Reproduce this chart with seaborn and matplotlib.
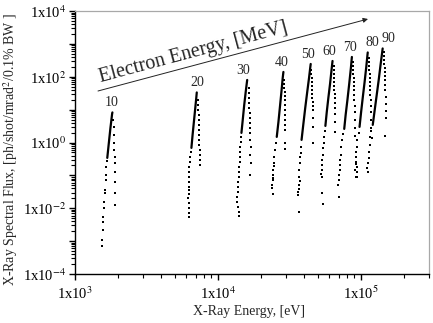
import numpy as np
import pandas as pd
import matplotlib
matplotlib.use("Agg")
import matplotlib.pyplot as plt
import seaborn as sns
from matplotlib.ticker import LogLocator, FuncFormatter, NullFormatter

# ---------------- data ----------------
peaks = ["10", "20", "30", "40", "50", "60", "70", "80", "90"]

# dense rising branch of each spectrum (X-ray energy [eV], flux)
dense_ev = {
    "10": [1682, 1728, 1770, 1801, 1818, 1827],
    "20": [6525, 6650, 6812, 6956, 7057, 7114],
    "30": [14610, 14920, 15280, 15650, 15900, 16030],
    "40": [25810, 26520, 27250, 27910, 28410, 28730],
    "50": [38490, 39560, 40840, 42170, 43410, 44240, 44600],
    "60": [56500, 57780, 59270, 60910, 62390, 63400],
    "70": [76550, 78310, 80590, 82940, 85220, 86600],
    "80": [97950, 100500, 103300, 106300, 109200, 111300, 111800],
    "90": [121200, 125100, 129200, 133400, 137700, 140600, 142200],
}
dense_flux = {
    "10": [0.340, 1.04, 2.78, 5.22, 7.40, 8.22],
    "20": [0.685, 1.70, 4.86, 12.1, 22.7, 33.3],
    "30": [1.96, 4.86, 13.9, 34.5, 60.4, 79.9],
    "40": [1.48, 4.23, 13.9, 39.7, 91.9, 140],
    "50": [1.20, 3.43, 11.3, 34.5, 91.9, 185, 245],
    "60": [3.19, 8.51, 22.7, 60.4, 161, 302],
    "70": [2.59, 6.90, 19.7, 60.4, 185, 400],
    "80": [2.98, 8.51, 24.3, 69.5, 199, 460, 548],
    "90": [3.43, 9.79, 28.0, 79.9, 245, 493, 725],
}

# sparse low-energy tail of each spectrum
tail_ev = {
    "10": [1668, 1660, 1654, 1641, 1628, 1623, 1608, 1590, 1582, 1572, 1565, 1552, 1547],
    "20": [6460, 6390, 6360, 6320, 6290, 6290, 6260, 6240, 6270, 6240, 6220, 6240, 6240, 6270, 6270],
    "30": [14520, 14450, 14380, 14290, 14220, 14220, 14150, 14060, 13990, 13880, 13840, 13770,
           13660, 13610, 13880, 13990, 13990],
    "40": [25410, 25160, 24880, 24600, 24880, 24370, 24210, 24480, 24100, 23980, 23910, 24100],
    "50": [38130, 37890, 37700, 37520, 37100, 36930, 37280, 37100, 36690, 36520, 36350, 36930],
    "60": [55960, 55340, 55070, 54720, 54200, 53860, 53600, 53170, 53000, 53340, 53600, 54460],
    "70": [74990, 74150, 73210, 72280, 71820, 71470, 71130, 70670, 70330, 69560, 70000],
    "80": [96380, 94560, 93500, 93070, 92770, 93070, 93800, 94260, 93350],
    "90": [117900, 116800, 115500, 114200, 113600, 112700, 110900, 112700],
}
tail_flux = {
    "10": [0.276, 0.181, 0.104, 0.073, 0.0362, 0.0294, 0.0157, 0.0103, 0.00548, 0.00386,
           0.00221, 0.0011, 0.00072],
    "20": [0.518, 0.365, 0.257, 0.181, 0.128, 0.0901, 0.0635, 0.0447, 0.0362, 0.0274, 0.0207,
           0.0146, 0.0103, 0.00725, 0.00548],
    "30": [1.48, 1.04, 0.735, 0.518, 0.365, 0.257, 0.181, 0.128, 0.0901, 0.0635, 0.0447, 0.0315,
           0.0222, 0.0157, 0.0110, 0.00777, 0.00587],
    "40": [0.972, 0.596, 0.365, 0.240, 0.194, 0.147, 0.104, 0.0839, 0.073, 0.0514, 0.0417, 0.0274],
    "50": [0.735, 0.483, 0.365, 0.240, 0.147, 0.0901, 0.0680, 0.0514, 0.0389, 0.0315, 0.0255, 0.00777],
    "60": [2.25, 1.48, 0.972, 0.685, 0.420, 0.296, 0.209, 0.147, 0.111, 0.0901, 0.0294, 0.0136],
    "70": [1.83, 1.20, 0.735, 0.420, 0.296, 0.209, 0.147, 0.104, 0.073, 0.0514, 0.0222],
    "80": [1.96, 1.20, 0.735, 0.518, 0.365, 0.257, 0.181, 0.128, 0.0901],
    "90": [2.25, 1.48, 0.846, 0.518, 0.340, 0.240, 0.169, 0.128],
}

# falling high-energy edge of each spectrum
right_ev = {
    "10": [1851, 1860, 1866, 1875, 1881, 1896, 1896, 1905, 1905, 1911, 1911],
    "20": [7260, 7260, 7260, 7320, 7320, 7320, 7380, 7380, 7380, 7380, 7440, 7440, 7440, 7440],
    "30": [16420, 16420, 16550, 16550, 16550, 16680, 16680, 16680, 16820, 16820, 16820, 16950,
           16820, 16950, 16820],
    "40": [29100, 29100, 29100, 29350, 29350, 29350, 29350, 29530, 29530, 29530, 29530, 29670,
           29670, 29670],
    "50": [45170, 45170, 45460, 45460, 45680, 45680, 45900, 45900, 46190, 46190, 46190, 46420,
           46420, 46420],
    "60": [64630, 64630, 64940, 64940, 65250, 65250, 65250, 65670, 65670, 65670, 65990, 65990,
           66300, 66300],
    "70": [88000, 88000, 88700, 88700, 89400, 89400, 89400, 90100, 90100, 90100, 90900, 90900,
           91600, 91600, 91600, 92300, 91600, 92300],
    "80": [113600, 113600, 114600, 114600, 115500, 115500, 115500, 116400, 116400, 116400,
           117300, 117300, 117300, 118300, 118300, 119200],
    "90": [144400, 144400, 145600, 145600, 146800, 146800, 146800, 147900, 147900, 147900,
           149100, 149100, 149100, 150300, 147900],
}
right_flux = {
    "10": [4.86, 2.98, 1.70, 0.972, 0.596, 0.365, 0.240, 0.128, 0.0635, 0.0294, 0.0127],
    "20": [19.7, 13.9, 9.79, 6.90, 4.86, 3.43, 2.42, 1.70, 1.20, 0.846, 0.596, 0.420, 0.296, 0.209],
    "30": [45.7, 32.2, 22.7, 16.0, 11.3, 7.94, 5.59, 3.94, 2.78, 1.96, 1.20, 0.735, 0.420, 0.240, 0.104],
    "40": [79.9, 60.4, 45.7, 34.5, 26.1, 19.7, 13.9, 9.79, 6.90, 4.86, 3.43, 2.42, 0.972, 0.639],
    "50": [161, 122, 91.9, 69.5, 52.5, 39.7, 30.0, 22.7, 17.1, 13.0, 9.79, 5.59, 2.98, 0.972],
    "60": [213, 161, 122, 91.9, 69.5, 52.5, 39.7, 30.0, 22.7, 16.0, 11.3, 7.40, 4.23, 2.10],
    "70": [282, 213, 161, 122, 91.9, 69.5, 52.5, 39.7, 28.0, 19.7, 13.0, 8.51, 4.86, 2.78, 1.59,
           0.224, 0.147, 0.0901],
    "80": [373, 282, 213, 161, 122, 91.9, 69.5, 52.5, 39.7, 28.0, 19.7, 13.0, 8.51, 4.86, 2.78, 1.38],
    "90": [567, 429, 324, 245, 185, 140, 106, 79.9, 56.3, 39.7, 24.3, 14.9, 9.13, 5.59, 1.59],
}

x_ticks = [1e3, 1e4, 1e5]
y_label_exps = [4, 2, 0, -2, -4]
x_label = "X-Ray Energy, [eV]"
y_label = "X-Ray Spectral Flux, [ph/shot/mrad$^{2}$/0.1% BW ]"
arrow_text = "Electron Energy, [MeV]"

# ---------------- build table ----------------
rows = []
for p in peaks:
    for b, xs, ys in (("dense", dense_ev[p], dense_flux[p]),
                      ("tail", tail_ev[p], tail_flux[p]),
                      ("right", right_ev[p], right_flux[p])):
        for i, (xv, yv) in enumerate(zip(xs, ys)):
            rows.append(dict(peak=p, branch=b, order=i, ev=xv, flux=yv))
df = pd.DataFrame(rows)

# ---------------- style ----------------
sns.set_theme(style="ticks")
plt.rcParams['font.family'] = ['Liberation Serif', 'DejaVu Serif']
plt.rcParams['mathtext.fontset'] = 'stix'

W, H = 433, 323
fig = plt.figure(figsize=(W / 100, H / 100), dpi=100)
L, R, T, B = 75, 429, 11, 274
ax = fig.add_axes([L / W, 1 - B / H, (R - L) / W, (B - T) / H])
ax.set_xscale("log")
ax.set_yscale("log")

sns.lineplot(data=df[df.branch == "dense"], x="ev", y="flux", units="peak",
             estimator=None, sort=False, color="black", lw=1.6, ax=ax, legend=False)
sns.scatterplot(data=df[df.branch != "dense"], x="ev", y="flux", color="black",
                marker="s", s=3.0, linewidth=0, ax=ax, legend=False)

ax.set_xlim(1e3, 3e5)
ax.set_ylim(1e-4, 1e4)

# ticks
ax.xaxis.set_major_locator(LogLocator(base=10, numticks=10))
ax.xaxis.set_minor_locator(LogLocator(base=10, subs=np.arange(2, 10), numticks=10))
ax.xaxis.set_major_formatter(FuncFormatter(
    lambda v, _: "1x10$^{%d}$" % round(np.log10(v)) if any(np.isclose(v, t) for t in x_ticks) else ""))
ax.xaxis.set_minor_formatter(NullFormatter())
ax.yaxis.set_major_locator(LogLocator(base=10, numticks=20))
ax.yaxis.set_minor_locator(LogLocator(base=10, subs=np.arange(2, 10), numticks=20))
ax.yaxis.set_major_formatter(FuncFormatter(
    lambda v, _: "1x10$^{%d}$" % round(np.log10(v)) if round(np.log10(v)) in y_label_exps else ""))
ax.yaxis.set_minor_formatter(NullFormatter())
ax.tick_params(which="major", direction="out", length=4.5, width=1.0, color="black",
               labelsize=10.5, pad=2.0, left=True, bottom=True, labelcolor="black")
ax.tick_params(which="minor", direction="out", length=3.0, width=0.8, color="black",
               left=True, bottom=True)
ax.tick_params(axis="x", which="major", pad=3.5)

for s in ("left", "bottom"):
    ax.spines[s].set_visible(True)
    ax.spines[s].set_color("black")
    ax.spines[s].set_linewidth(1.0)
for s in ("top", "right"):
    ax.spines[s].set_visible(True)
    ax.spines[s].set_color("#a8a8a8")
    ax.spines[s].set_linewidth(0.9)

ax.set_xlabel("")
ax.set_ylabel("")
fig.text((L + R) / 2 / W - 0.006, 1 - 312 / H, x_label, ha="center", va="center", fontsize=10)
fig.text(11 / W, 1 - 150 / H, y_label, ha="center", va="center", rotation=90, fontsize=10)

# electron-energy labels above each peak
label_dx_px = [-1, 0.6, -4, -1.7, -2.5, -3.5, -2.3, 4.3, 5.7]
for p, dx in zip(peaks, label_dx_px):
    i = int(np.argmax(dense_flux[p]))
    ax.annotate(p, xy=(dense_ev[p][i], dense_flux[p][i]), xytext=(dx * 0.72, 7.0),
                textcoords="offset points", ha="center", va="center", fontsize=10)

# arrow and its caption
ax.annotate("", xy=((368 - L) / (R - L), (B - 19) / (B - T)),
            xytext=((98 - L) / (R - L), (B - 91) / (B - T)), xycoords="axes fraction",
            arrowprops=dict(arrowstyle="-|>", lw=0.7, color="#222222", mutation_scale=7,
                            shrinkA=0, shrinkB=0))
ax.text((195 - L) / (R - L), (B - 57) / (B - T), arrow_text, transform=ax.transAxes,
        rotation=15, rotation_mode="anchor", ha="center", va="baseline", fontsize=14.5)

fig.savefig("out.png", dpi=100)
